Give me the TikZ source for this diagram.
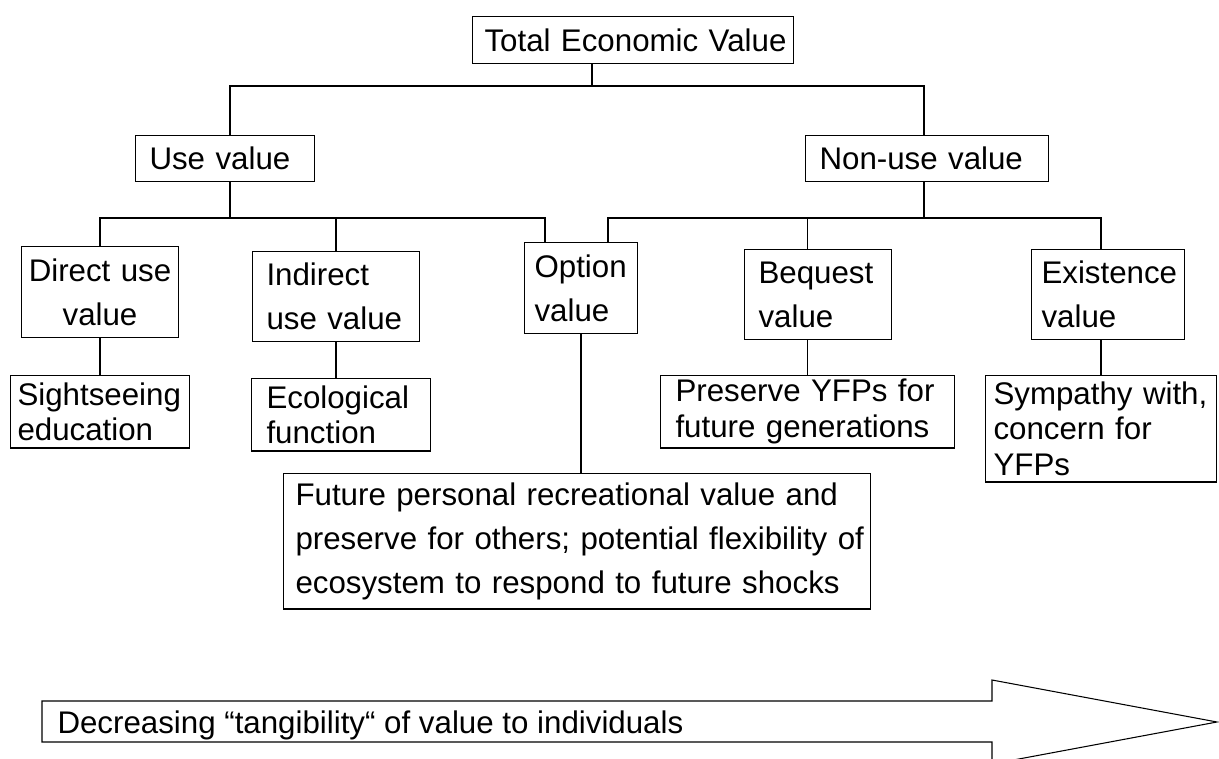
\documentclass[tikz,border=0pt]{standalone}
\usepackage{fontspec}
\setmainfont{Liberation Sans}
\begin{document}
\begin{tikzpicture}
  [x=0.02cm,y=-0.02cm,line width=0.6pt,
   box/.style={draw,anchor=north west,align=left,inner xsep=0.28cm,inner ysep=0pt,
     font=\fontsize{17.8}{25}\selectfont},
   tight/.style={box,font=\fontsize{17.8}{20.4}\selectfont}]
  \useasboundingbox (0,0) rectangle (1219,759);

  % boxes
  \node[box,text width=5.94cm,minimum height=0.94cm,inner xsep=0.24cm] (tev) at (472,16) {\mbox{Total Economic Value}};
  \node[box,text width=3.02cm,minimum height=0.92cm] (use) at (135,135) {Use value};
  \node[box,text width=4.30cm,minimum height=0.92cm] (nonuse) at (805,135) {Non-use value};
  \node[box,text width=2.94cm,minimum height=1.82cm,inner xsep=0.1cm,align=center] (direct) at (21,246) {\mbox{Direct use}\\value};
  \node[box,text width=2.78cm,minimum height=1.80cm] (indirect) at (252,251) {Indirect\\\mbox{use value}};
  \node[box,text width=1.86cm,minimum height=1.82cm,inner xsep=0.2cm] (option) at (524,242) {Option\\value};
  \node[box,text width=2.38cm,minimum height=1.80cm] (bequest) at (744,249) {Bequest\\value};
  \node[box,text width=2.66cm,minimum height=1.80cm,inner xsep=0.2cm] (exist) at (1031,249) {Existence\\value};
  \node[tight,text width=3.30cm,minimum height=1.45cm,inner xsep=0.14cm] (sight) at (10,375) {Sightseeing\\education};
  \node[tight,text width=2.98cm,minimum height=1.45cm,inner xsep=0.3cm] (eco) at (251,378) {Ecological\\function};
  \node[box,text width=11.26cm,minimum height=2.71cm,inner xsep=0.24cm] (future) at (283,473)
    {\mbox{Future personal recreational value and}\\\mbox{preserve for others; potential flexibility of}\\\mbox{ecosystem to respond to future shocks}};
  \node[tight,text width=5.28cm,minimum height=1.45cm,inner xsep=0.3cm] (pres) at (660,375) {\mbox{Preserve YFPs for}\\\mbox{future generations}};
  \node[tight,text width=4.30cm,minimum height=2.13cm,inner xsep=0.16cm] (symp) at (985,375) {\mbox{Sympathy with,}\\concern for\\YFPs};

  % bus points
  \coordinate (b0) at (592,86);
  \coordinate (b1) at (230,218);
  \coordinate (b2) at (924,218);
  \coordinate (o1) at (545,218);
  \coordinate (o2) at (608,218);

  % tree lines
  \draw (tev.south -| b0) -- (b0);
  \draw (use.north -| b1) |- (b0) -| (nonuse.north -| b2);
  \draw (use.south -| b1) -- (b1);
  \draw (nonuse.south -| b2) -- (b2);
  \draw (direct.north) |- (o1) -- (o1 |- option.north);
  \draw (indirect.north) -- (indirect.north |- b1);
  \draw (o2 |- option.north) -- (o2) -| (exist.north -| symp.north);
  \draw (bequest.north -| pres.north) -- (pres.north |- b2);
  \draw (direct.south) -- (direct.south |- sight.north);
  \draw (indirect.south) -- (indirect.south |- eco.north);
  \draw (option.south) -- (option.south |- future.north);
  \draw (bequest.south -| pres.north) -- (pres.north);
  \draw (exist.south -| symp.north) -- (symp.north);

  % tangibility arrow
  \draw (42,701) -- (992,701) -- (992,680) -- (1217,722) -- (992,764) -- (992,742) -- (42,742) -- cycle;
  \node[anchor=base west,inner sep=0pt,font=\fontsize{17.8}{25}\selectfont] (trend) at (57,733)
    {Decreasing “tangibility“ of value to individuals};
\end{tikzpicture}
\end{document}
